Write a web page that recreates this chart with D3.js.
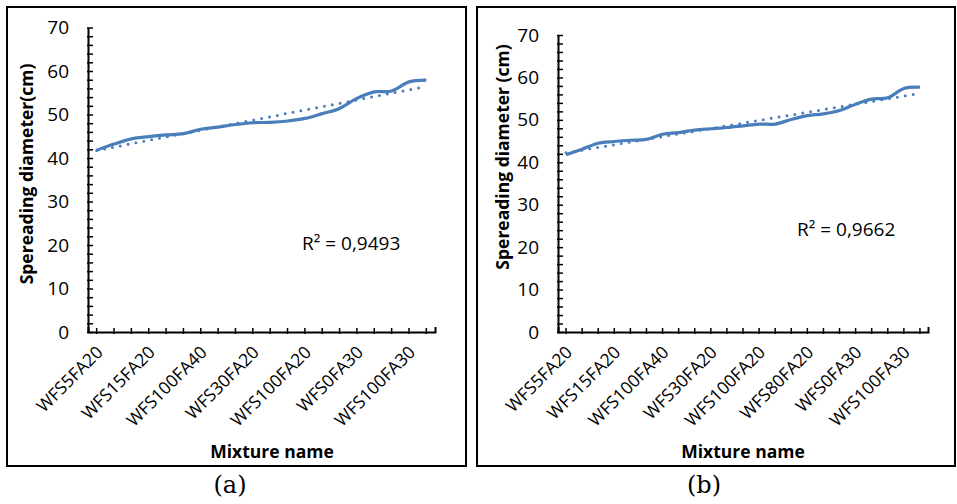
<!DOCTYPE html>
<html>
<head>
<meta charset="utf-8">
<script src="https://cdn.jsdelivr.net/npm/d3@7"></script>
<style>
  body { margin: 0; background: #fff; }
  text { font-family: "Open Sans", sans-serif; fill: #000; }
</style>
</head>
<body>
<div id="chart"></div>
<script>
(function () {

  // (a) 20 mixtures - only every third name is printed on the axis
  var labelsA = ["WFS5FA20", "", "", "WFS15FA20", "", "", "WFS100FA40", "", "", "WFS30FA20", "", "",
                 "WFS100FA20", "", "", "WFS0FA30", "", "", "WFS100FA30", ""]
  var valuesA = [41.8, 43.2, 44.4, 44.9, 45.3, 45.6, 46.6, 47.1, 47.7, 48.1, 48.2, 48.5,
                 49.1, 50.2, 51.4, 53.7, 55.2, 55.4, 57.5, 57.9]
  var r2A = "R² = 0,9493"

  // (b) 23 mixtures
  var labelsB = ["WFS5FA20", "", "", "WFS15FA20", "", "", "WFS100FA40", "", "", "WFS30FA20", "", "",
                 "WFS100FA20", "", "", "WFS80FA20", "", "", "WFS0FA30", "", "", "WFS100FA30", ""]
  var valuesB = [41.8, 43.1, 44.5, 44.9, 45.2, 45.4, 46.6, 47.0, 47.6, 47.9, 48.2, 48.6,
                 49.0, 49.0, 50.1, 51.0, 51.4, 52.2, 53.7, 54.9, 55.2, 57.4, 57.7]
  var r2B = "R² = 0,9662"

  var yMax = 70
  var yMinorTicks = d3.range(0, 71, 2)

  var blue = "#4a7ebb"

  var svg = d3.select("#chart").append("svg")
    .attr("width", 957)
    .attr("height", 504)

  function panel(opt) {
    var g = svg.append("g")

    // frame
    g.append("rect")
      .attr("x", opt.frame[0]).attr("y", opt.frame[1])
      .attr("width", opt.frame[2]).attr("height", opt.frame[3])
      .attr("fill", "none").attr("stroke", "#000").attr("stroke-width", 2)

    var x = d3.scaleBand()
      .domain(d3.range(opt.labels.length))
      .range([opt.left, opt.right])

    var y = d3.scaleLinear()
      .domain([0, yMax])
      .range([opt.bottom, opt.top])

    var cx = function (i) { return x(i) + x.bandwidth() / 2 }

    // y axis
    var yAxis = d3.axisLeft(y)
      .tickValues(yMinorTicks)
      .tickSizeInner(-5)
      .tickSizeOuter(0)
      .tickPadding(19)
      .tickFormat(function (d) { return d % 10 === 0 ? d : "" })

    var ya = g.append("g")
      .attr("transform", "translate(" + opt.left + ",0)")
      .call(yAxis)
    ya.selectAll("text").style("font-size", "19px").style("font-family", "Open Sans, sans-serif")
    ya.selectAll("line").attr("x1", -1).attr("stroke-width", 1.5)
    ya.select(".domain").attr("stroke-width", 2)

    // x axis
    var xAxis = d3.axisBottom(x)
      .tickSizeInner(0)
      .tickSizeOuter(-5)
      .tickFormat(function (i) { return opt.labels[i] })

    var xa = g.append("g")
      .attr("transform", "translate(0," + opt.bottom + ")")
      .call(xAxis)
    xa.select(".domain").attr("stroke-width", 2)
    xa.selectAll(".tick line").attr("y1", -4).attr("y2", 2).attr("stroke-width", 1.5)
    xa.selectAll(".tick text")
      .attr("x", 0).attr("y", 0).attr("dy", "0.35em")
      .attr("transform", "translate(3,17) rotate(-45)")
      .style("text-anchor", "end")
      .style("font-size", "17.5px")
      .style("font-family", "Open Sans, sans-serif")

    // spreading diameter, smoothed
    var line = d3.line()
      .x(function (d, i) { return cx(i) })
      .y(function (d) { return y(d) })
      .curve(d3.curveCatmullRom.alpha(0))

    g.append("path")
      .datum(opt.values)
      .attr("d", line)
      .attr("fill", "none")
      .attr("stroke", blue)
      .attr("stroke-width", 3.2)
      .attr("stroke-linejoin", "round")

    // linear trend line (least squares of the series)
    var n = opt.values.length
    var mi = d3.mean(d3.range(n))
    var mv = d3.mean(opt.values)
    var sxy = d3.sum(opt.values, function (v, i) { return (i - mi) * (v - mv) })
    var sxx = d3.sum(d3.range(n), function (i) { return (i - mi) * (i - mi) })
    var slope = sxy / sxx
    var icpt = mv - slope * mi

    g.append("line")
      .attr("x1", cx(0)).attr("y1", y(icpt))
      .attr("x2", cx(n - 1)).attr("y2", y(icpt + slope * (n - 1)))
      .attr("stroke", blue)
      .attr("stroke-width", 3)
      .attr("stroke-linecap", "round")
      .attr("stroke-dasharray", "0,8")

    g.append("text")
      .attr("x", opt.r2Pos[0]).attr("y", opt.r2Pos[1])
      .style("font-size", "19px")
      .text(opt.r2)

    // axis titles
    g.append("text")
      .attr("transform", "translate(" + opt.yTitle[0] + "," + opt.yTitle[1] + ") rotate(-90)")
      .attr("text-anchor", "middle")
      .style("font-size", "17.5px")
      .style("font-weight", "bold")
      .text(opt.yTitleText)

    g.append("text")
      .attr("x", opt.xTitle[0]).attr("y", opt.xTitle[1])
      .attr("text-anchor", "middle")
      .style("font-size", "17.5px")
      .style("font-weight", "bold")
      .text("Mixture name")

    g.append("text")
      .attr("x", opt.caption[0]).attr("y", opt.caption[1])
      .attr("text-anchor", "middle")
      .style("font-family", "DejaVu Serif, serif")
      .style("font-size", "24px")
      .text(opt.captionText)
  }

  panel({
    labels: labelsA, values: valuesA, r2: r2A,
    frame: [7, 7, 459, 459],
    left: 88, right: 435, top: 27.5, bottom: 332,
    r2Pos: [302, 250],
    yTitle: [33, 174], yTitleText: "Spereading diameter(cm)",
    xTitle: [272, 458],
    caption: [230, 493], captionText: "(a)"
  })

  panel({
    labels: labelsB, values: valuesB, r2: r2B,
    frame: [477, 7, 478, 459],
    left: 558, right: 928, top: 35, bottom: 332,
    r2Pos: [797, 236],
    yTitle: [509, 157], yTitleText: "Spereading diameter (cm)",
    xTitle: [743, 458],
    caption: [704, 493], captionText: "(b)"
  })

})()
</script>
</body>
</html>
